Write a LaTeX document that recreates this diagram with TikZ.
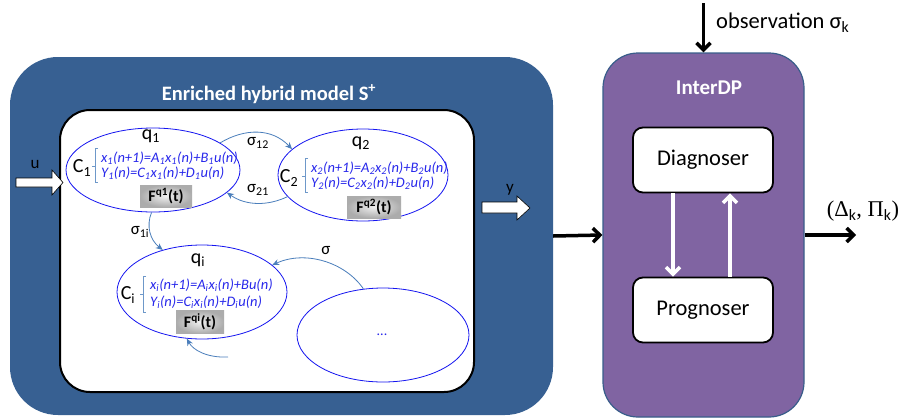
\documentclass[tikz,border=0pt]{standalone}
\usepackage{fontspec}
\setmainfont{Carlito}
\newfontfamily\serifnum{Liberation Serif}
\usetikzlibrary{shapes.geometric,arrows.meta}
\definecolor{boxblue}{RGB}{55,96,146}
\definecolor{dpurple}{RGB}{128,100,162}
\definecolor{dborder}{RGB}{56,93,138}
\definecolor{conn}{RGB}{74,126,187}
\definecolor{eqblue}{RGB}{40,40,235}
\definecolor{ellblue}{RGB}{20,20,240}
\newcommand\ssb[1]{\textsubscript{#1}}
\begin{document}
\begin{tikzpicture}[x=1pt,y=-1pt,
 state/.style={ellipse, draw=ellblue, line width=0.8, inner sep=0},
 eqn/.style={anchor=west, text=eqblue, font=\fontsize{14.5}{16}\selectfont\itshape, inner sep=0},
 fbox/.style={shade, inner color=gray!12, outer color=gray!65, font=\fontsize{16}{18}\selectfont\bfseries, inner sep=0},
 trans/.style={draw=conn, line width=0.8, -{Stealth[length=7pt,width=6pt]}},
 brk/.style={draw=conn!80, line width=0.7},
 lbl/.style={font=\fontsize{17}{19}\selectfont, inner sep=0},
 qlbl/.style={font=\fontsize{20}{22}\selectfont, inner sep=0},
 blk/.style={line width=3.5, -{Straight Barb[length=7pt,width=14pt]}},
 wht/.style={white, line width=3.5, -{Straight Barb[length=7pt,width=14pt]}},
 procbox/.style={draw, line width=1.8, fill=white, rounded corners=10, minimum width=140, minimum height=65, font=\fontsize{22.5}{26}\selectfont},
 blockarr/.style={fill=white, draw=black, line width=0.6}
]
\useasboundingbox (0,0) rectangle (899,418);

% enriched hybrid model box
\node[fill=boxblue, draw=none, rounded corners=48, minimum width=543, minimum height=358, inner sep=0] (hyb) at (281.5,236) {};
\node[fill=white, draw=black, line width=2, rounded corners=30, minimum width=414, minimum height=282, inner sep=0] (inner) at (267,251) {};
\node[text=white, font=\fontsize{20.5}{22}\selectfont\bfseries, inner sep=0] (hybtitle) at (269,94) {Enriched hybrid model S\textsuperscript{+}};

% InterDP box
\node[fill=dpurple, draw=dborder, line width=1.2, rounded corners=35, minimum width=201, minimum height=364, inner sep=0] (dp) at (703.5,235) {};
\node[text=white, font=\fontsize{21}{23}\selectfont\bfseries, inner sep=0] (dptitle) at (709,88) {InterDP};
\node[procbox] (diag) at (703,160) {Diagnoser};
\node[procbox] (prog) at (703,310) {Prognoser};
\draw[wht] ([xshift=-30]diag.south) -- ([xshift=-30]prog.north);
\draw[wht] ([xshift=27]prog.north) -- ([xshift=27]diag.south);

% external arrows
\coordinate (obs) at (703.5,3);
\draw[blk] (obs) -- (dp.north);
\node[anchor=west, font=\fontsize{22.5}{24}\selectfont, inner sep=0] (obslbl) at (716,23) {observation σ\ssb{k}};
\draw[blk] (hyb.east) -- (dp.west);
\coordinate (outc) at (856,235);
\draw[blk] (dp.east) -- (outc);
\node[font=\fontsize{22.5}{24}\selectfont, inner sep=0] (outlbl) at (863,211) {{\serifnum (Δ}\ssb{k}{\serifnum , Π}\ssb{k}{\serifnum )}};

% block arrows u and y
\draw[blockarr] (16,178) -- (52,178) -- (52,170) -- (63,182.5) -- (52,195) -- (52,187) -- (16,187) -- cycle;
\node[lbl] (ulbl) at (35,164) {u};
\draw[blockarr] (482,202) -- (517,202) -- (517,196) -- (530,208) -- (517,220) -- (517,213) -- (482,213) -- cycle;
\node[lbl] (ylbl) at (510,190) {y};

% state q1
\node[state, minimum width=174, minimum height=84] (q1s) at (153,170) {};
\node[qlbl] (q1lab) at (151,136) {q\ssb{1}};
\node[qlbl] (c1lab) at (82,168) {C\ssb{1}};
\draw[brk] (98,148) -- (95,148) -- (95,182) -- (98,182);
\draw[brk] (92,166) -- (95,166);
\node[eqn] (q1e1) at (101,158) {x\ssb{1}(n+1)=A\ssb{1}x\ssb{1}(n)+B\ssb{1}u(n)};
\node[eqn] (q1e2) at (101,173) {Y\ssb{1}(n)=C\ssb{1}x\ssb{1}(n)+D\ssb{1}u(n)};
\node[fbox, minimum width=52, minimum height=22] (f1) at (166,196) {F\textsuperscript{q1}(t)};

% state q2
\node[state, minimum width=170, minimum height=92] (q2s) at (363,175) {};
\node[qlbl] (q2lab) at (361,143) {q\ssb{2}};
\node[qlbl] (c2lab) at (289,178) {C\ssb{2}};
\draw[brk] (308,158) -- (305,158) -- (305,192) -- (308,192);
\draw[brk] (302,176) -- (305,176);
\node[eqn] (q2e1) at (311,168) {x\ssb{2}(n+1)=A\ssb{2}x\ssb{2}(n)+B\ssb{2}u(n)};
\node[eqn] (q2e2) at (311,183) {Y\ssb{2}(n)=C\ssb{2}x\ssb{2}(n)+D\ssb{2}u(n)};
\node[fbox, minimum width=54, minimum height=22] (f2) at (374,207) {F\textsuperscript{q2}(t)};

% state qi
\node[state, minimum width=170, minimum height=94] (qis) at (202,292) {};
\node[qlbl] (qilab) at (198,260) {q\ssb{i}};
\node[qlbl] (cilab) at (128,295) {C\ssb{i}};
\draw[brk] (146,276) -- (143,276) -- (143,312) -- (146,312);
\draw[brk] (140,294) -- (143,294);
\node[eqn] (qie1) at (150,285) {x\ssb{i}(n+1)=A\ssb{i}x\ssb{i}(n)+Bu(n)};
\node[eqn] (qie2) at (150,302) {Y\ssb{i}(n)=C\ssb{i}x\ssb{i}(n)+D\ssb{i}u(n)};
\node[fbox, minimum width=48, minimum height=23] (fi) at (200,322) {F\textsuperscript{qi}(t)};

% state ...
\node[state, minimum width=172, minimum height=94] (dots) at (383,335) {};
\node[text=eqblue, font=\fontsize{14}{16}\selectfont, inner sep=0] (dotslab) at (382,335) {...};

% transitions
\draw[trans] (q1s.22) .. controls (245,128) and (272,128) .. (q2s.160);
\node[lbl] (s12) at (258,143) {σ\ssb{12}};
\draw[trans] (q2s.196) .. controls (268,206) and (246,206) .. (q1s.-17);
\node[lbl] (s21) at (258,190) {σ\ssb{21}};
\draw[trans] (q1s.268) .. controls (146,226) and (150,240) .. (qis.133);
\node[lbl] (s1i) at (140,232) {σ\ssb{1i}};
\draw[trans] (dots.113) .. controls (345,262) and (305,250) .. (qis.21);
\node[lbl] (ssig) at (326,251) {σ};
\coordinate (loopin) at (228,357);
\draw[trans] (loopin) .. controls (207,358) and (193,350) .. (qis.252);
\end{tikzpicture}
\end{document}
